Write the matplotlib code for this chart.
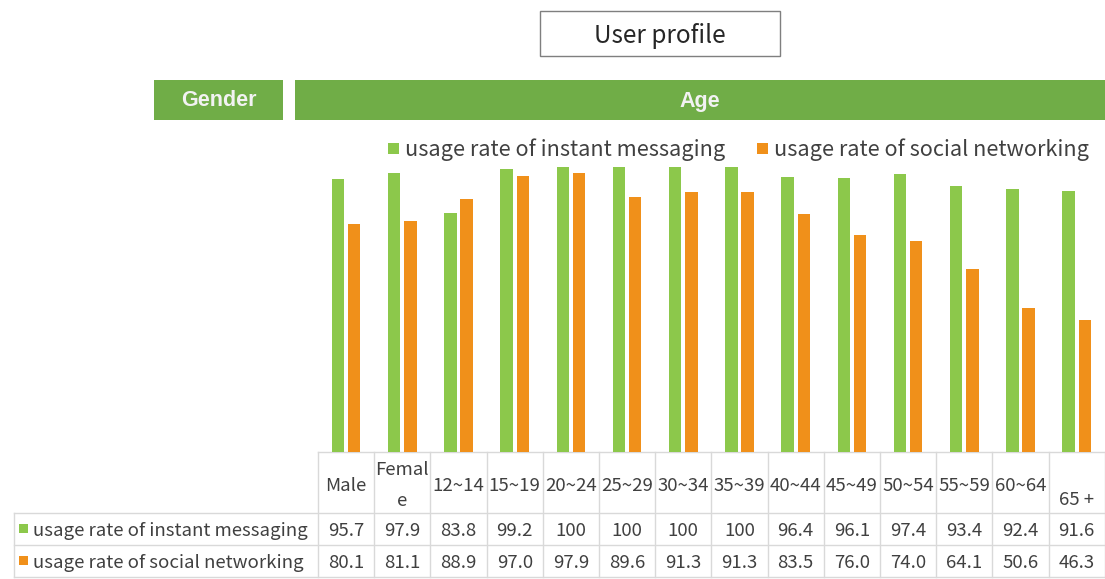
import matplotlib
matplotlib.use("Agg")
import matplotlib.pyplot as plt
from matplotlib.patches import Rectangle

plt.rcParams['font.family'] = ['Noto Sans CJK SC', 'DejaVu Sans']

# Datos
categories = ["Male", "Female", "12~14", "15~19", "20~24", "25~29", "30~34",
              "35~39", "40~44", "45~49", "50~54", "55~59", "60~64", "65 +"]
instant_messaging = [95.7, 97.9, 83.8, 99.2, 100, 100, 100, 100, 96.4, 96.1, 97.4, 93.4, 92.4, 91.6]
social_networking = [80.1, 81.1, 88.9, 97.0, 97.9, 89.6, 91.3, 91.3, 83.5, 76.0, 74.0, 64.1, 50.6, 46.3]
im_labels = ["95.7", "97.9", "83.8", "99.2", "100", "100", "100", "100", "96.4", "96.1", "97.4", "93.4", "92.4", "91.6"]
sn_labels = ["80.1", "81.1", "88.9", "97.0", "97.9", "89.6", "91.3", "91.3", "83.5", "76.0", "74.0", "64.1", "50.6", "46.3"]
series_names = ["usage rate of instant messaging", "usage rate of social networking"]

green = "#8cc84b"
orange = "#f0901a"
head_green = "#70ad47"
grid = "#d9d9d9"
txt = "#404040"
fs = 13.4

W, H = 1105, 579
fig = plt.figure(figsize=(W / 100, H / 100), dpi=100)

# Capa de fondo en pixeles
bg = fig.add_axes([0, 0, 1, 1])
bg.set_xlim(0, W)
bg.set_ylim(H, 0)
bg.axis('off')

# Titulo
bg.add_patch(Rectangle((540, 11), 240, 45, facecolor="white", edgecolor="#7f7f7f", lw=1))
bg.text(660, 36, "User profile", ha="center", va="center", fontsize=17.5, color="#262626")

# Cabeceras verdes
bg.add_patch(Rectangle((154, 80), 129, 40, facecolor=head_green, edgecolor="none"))
bg.add_patch(Rectangle((295, 80), 810, 40, facecolor=head_green, edgecolor="none"))
bg.text(219, 100, "Gender", ha="center", va="center", fontsize=15.5, fontweight="bold",
        color="#f2f2f2", family="Liberation Sans")
bg.text(700, 102, "Age", ha="center", va="center", fontsize=15.5, fontweight="bold",
        color="#f2f2f2", family="Liberation Sans")

# Leyenda
bg.add_patch(Rectangle((388, 143), 11, 11, facecolor=green, edgecolor="none"))
bg.text(405, 150, series_names[0], ha="left", va="center", fontsize=15.6, color=txt)
bg.add_patch(Rectangle((757, 143), 11, 11, facecolor=orange, edgecolor="none"))
bg.text(774, 150, series_names[1], ha="left", va="center", fontsize=15.6, color=txt)

# Tabla
x0, cw = 318, 56.2
n = len(categories)
x_end = x0 + cw * n
bg.plot([x0, x_end], [452, 452], color=grid, lw=1)
for yy in [513, 545, 577]:
    bg.plot([14, x_end], [yy, yy], color=grid, lw=1)
bg.plot([14, 14], [513, 577], color=grid, lw=1)
for i in range(n + 1):
    bg.plot([x0 + cw * i] * 2, [452, 577], color=grid, lw=1)

for i, c in enumerate(categories):
    cx = x0 + cw * (i + 0.5)
    if c == "Female":
        bg.text(cx, 470, "Femal", ha="center", va="center", fontsize=fs, color=txt)
        bg.text(cx, 501, "e", ha="center", va="center", fontsize=fs, color=txt)
    elif c == "65 +":
        bg.text(cx, 500, c, ha="center", va="center", fontsize=fs, color=txt)
    else:
        bg.text(cx, 486, c, ha="center", va="center", fontsize=fs, color=txt)
    bg.text(cx, 531, im_labels[i], ha="center", va="center", fontsize=fs, color=txt)
    bg.text(cx, 563, sn_labels[i], ha="center", va="center", fontsize=fs, color=txt)

bg.add_patch(Rectangle((19, 524), 9, 9, facecolor=green, edgecolor="none"))
bg.text(33, 531, series_names[0], ha="left", va="center", fontsize=fs, color=txt)
bg.add_patch(Rectangle((19, 556), 9, 9, facecolor=orange, edgecolor="none"))
bg.text(33, 563, series_names[1], ha="left", va="center", fontsize=fs, color=txt)

# Barras
ax = fig.add_axes([x0 / W, 1 - 452 / H, (x_end - x0) / W, (452 - 167) / H])
ax.patch.set_alpha(0)
pos = list(range(n))
ax.bar([p - 0.145 for p in pos], instant_messaging, width=0.22, color=green)
ax.bar([p + 0.145 for p in pos], social_networking, width=0.22, color=orange)
ax.set_xlim(-0.5, n - 0.5)
ax.set_ylim(0, 100)
ax.axis('off')

fig.savefig("out.png", dpi=100)
